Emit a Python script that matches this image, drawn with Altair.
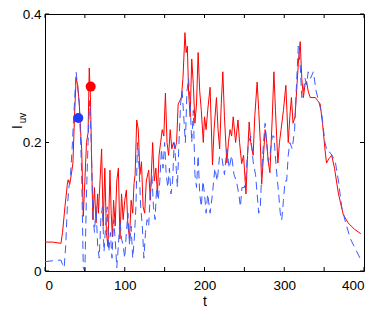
import altair as alt
import pandas as pd

# red solid series
red_t = [0, 10, 20, 22, 25, 28, 29, 31, 33, 35, 37, 39, 41, 43, 45, 46, 48, 50, 52, 54, 55.5, 57, 58.5,
         60, 62, 64, 66, 67, 69, 71, 73, 75, 77, 79, 81.5, 83, 84.5, 86, 88, 90, 92, 94, 96, 98, 100,
         102, 104, 106, 108, 110, 111.6, 113, 115, 117, 119, 121, 123, 125, 127, 130, 132, 135, 137,
         139, 141, 143, 145, 147, 149, 151, 153, 155, 157, 159, 161, 163, 165, 167, 169, 171, 173,
         175.5, 177, 178.5, 180, 182, 184, 186, 188, 190, 192, 194, 196, 198.5, 200, 202, 204, 207,
         210, 212, 215, 217, 219, 221, 223, 225, 228, 230, 232, 234, 236, 239, 242, 244, 246.6, 249,
         252, 254, 256, 258, 261, 263, 266, 268, 270, 271.7, 274, 276, 278, 280, 282, 285, 287, 289,
         292, 294, 296, 299, 302, 305, 307, 309, 311, 313.5, 316, 318, 320, 322, 324, 326, 328, 330,
         332.6, 336, 339, 342, 345, 348, 351, 353, 356, 359.5, 363, 368, 374, 380, 388, 396]
red_v = [0.045, 0.045, 0.043, 0.06, 0.10, 0.135, 0.142, 0.135, 0.15, 0.168, 0.24, 0.30, 0.29, 0.26,
         0.21, 0.19, 0.085, 0.14, 0.20, 0.215, 0.316, 0.27, 0.17,
         0.08, 0.13, 0.075, 0.12, 0.09, 0.14, 0.19, 0.07, 0.16, 0.06, 0.038, 0.157, 0.09, 0.053,
         0.11, 0.07, 0.14, 0.16, 0.05, 0.12, 0.08, 0.11,
         0.126, 0.07, 0.05, 0.11, 0.09, 0.136, 0.15, 0.235, 0.22, 0.15, 0.17, 0.10, 0.09, 0.14,
         0.157, 0.11, 0.20, 0.14,
         0.16, 0.12, 0.18, 0.20, 0.22, 0.21, 0.277, 0.20, 0.18, 0.22, 0.19, 0.20, 0.19, 0.20,
         0.26, 0.265, 0.27, 0.30,
         0.371, 0.34, 0.35, 0.28, 0.24, 0.33, 0.29, 0.23, 0.26, 0.34, 0.28, 0.25, 0.20, 0.24,
         0.22, 0.25, 0.286,
         0.165, 0.22, 0.27, 0.22, 0.19, 0.26, 0.31, 0.24, 0.168, 0.20, 0.22, 0.21, 0.24, 0.20,
         0.235, 0.20, 0.167, 0.18,
         0.12, 0.18, 0.232, 0.20, 0.18, 0.24, 0.294, 0.25, 0.20, 0.135, 0.18, 0.22, 0.20, 0.17,
         0.153, 0.24, 0.31, 0.25,
         0.168, 0.20, 0.22, 0.25, 0.289, 0.20, 0.24, 0.27, 0.23, 0.24, 0.29, 0.33, 0.357, 0.30,
         0.27, 0.29, 0.295, 0.28,
         0.27, 0.27, 0.27, 0.265, 0.26, 0.23, 0.19, 0.168, 0.175, 0.18, 0.16, 0.12, 0.088, 0.075,
         0.065, 0.058]

# blue dashed series
blue_t = [0, 10, 20, 22, 24, 26, 28, 30, 32, 34, 36, 39, 41, 43, 45, 46, 48, 50, 52, 54, 56, 58,
          60, 62, 64, 66, 68, 70, 72, 74, 76, 78, 80, 82, 84, 86, 88, 90, 92, 94, 96, 98, 100,
          102, 104, 106, 108, 110, 112, 114, 116, 118, 120, 122, 124, 126, 128, 130, 132, 134, 136,
          138, 140, 142, 144, 146, 148, 150, 152, 154, 156, 158, 160, 162, 164, 166, 168, 170, 172,
          174, 176, 178, 180, 182, 184, 186, 188, 190, 192, 194, 196, 198, 200, 202, 204, 207, 210,
          213, 216, 219, 222, 225, 228, 231, 234, 237, 240, 243, 245, 247, 250, 252, 255, 258, 261,
          264, 266, 268, 270, 272, 274, 276, 278, 280, 282, 285, 287, 290, 293, 295, 296.8, 299, 301,
          303, 305, 307, 310, 313, 315, 317.6, 320, 322, 324, 326, 328, 330, 333, 336.5, 340, 344,
          347, 351, 354, 357, 360, 364, 368, 372, 377, 383, 389, 395]
blue_v = [0.0145, 0.016, 0.017, 0.01, 0.005, 0.04, 0.10, 0.13, 0.15, 0.19, 0.24, 0.31, 0.285, 0.26,
          0.19, 0.15, 0.005, 0.0, 0.12, 0.20, 0.265, 0.20,
          0.09, 0.06, 0.10, 0.04, 0.02, 0.08, 0.10, 0.03, 0.07, 0.10, 0.03, 0.06, 0.02, 0.08, 0.05,
          0.005, 0.04, 0.08, 0.05, 0.04, 0.02,
          0.06, 0.09, 0.04, 0.07, 0.02, 0.05, 0.10, 0.20, 0.16, 0.10, 0.07, 0.02, 0.06, 0.08, 0.07,
          0.12, 0.15, 0.10,
          0.08, 0.13, 0.11, 0.14, 0.19, 0.16, 0.20, 0.15, 0.13, 0.16, 0.12, 0.14, 0.20, 0.17, 0.13,
          0.20, 0.26, 0.28,
          0.24, 0.20, 0.28, 0.30, 0.26, 0.20, 0.25, 0.15, 0.13, 0.18, 0.12, 0.10, 0.14, 0.12, 0.09,
          0.12, 0.09, 0.12,
          0.16, 0.14, 0.18, 0.175, 0.15, 0.19, 0.16, 0.18, 0.15, 0.14, 0.12, 0.10, 0.13, 0.13, 0.15,
          0.20, 0.21, 0.17,
          0.15, 0.12, 0.09, 0.10, 0.16, 0.20, 0.23, 0.20, 0.17, 0.18, 0.21, 0.21, 0.16, 0.12, 0.09,
          0.079, 0.11, 0.14,
          0.14, 0.18, 0.20, 0.19, 0.22, 0.28, 0.35, 0.32, 0.27, 0.28, 0.30, 0.29, 0.31, 0.30, 0.31,
          0.28, 0.26,
          0.245, 0.20, 0.185, 0.185, 0.18, 0.17, 0.14, 0.10, 0.075, 0.05, 0.035, 0.02]

# marker points
dot_t = [41.8, 57.3]
dot_v = [0.238, 0.287]
dot_name = ["blue", "red"]

x_ticks = [0, 50, 100, 150, 200, 250, 300, 350, 400]
y_ticks = [0, 0.2, 0.4]

W, H = 319, 257
TICK = 4

red_df = pd.DataFrame({"t": red_t, "v": red_v})
blue_df = pd.DataFrame({"t": blue_t, "v": blue_v})
dot_df = pd.DataFrame({"t": dot_t, "v": dot_v, "name": dot_name})
xt_df = pd.DataFrame({"t": x_ticks})
yt_df = pd.DataFrame({"v": y_ticks})

FONT = "Liberation Sans"
xs = alt.Scale(domain=[0, 400], nice=False, zero=False)
ys = alt.Scale(domain=[0, 0.4], nice=False, zero=False)

x_main = alt.Axis(values=x_ticks, orient="bottom", tickSize=0, domain=False, grid=False,
                  labelFont=FONT, labelFontSize=13.5, labelColor="black", labelPadding=7,
                  title="t", titleFont=FONT, titleFontSize=14, titleFontWeight="normal",
                  titleColor="black", titlePadding=3)
y_main = alt.Axis(values=y_ticks, orient="left", tickSize=0, domain=False, grid=False,
                  labelFont=FONT, labelFontSize=13.5, labelColor="black", labelPadding=4,
                  labelExpr="datum.value == 0 ? '0' : format(datum.value, '.1f')",
                  title="")

red = alt.Chart(red_df).mark_line(color="#ff0000", strokeWidth=1).encode(
    x=alt.X("t:Q", scale=xs, axis=x_main),
    y=alt.Y("v:Q", scale=ys, axis=y_main),
)

blue = alt.Chart(blue_df).mark_line(color="#3a5bff", strokeWidth=1, strokeDash=[8, 5]).encode(
    x=alt.X("t:Q", scale=xs),
    y=alt.Y("v:Q", scale=ys),
)

dots = alt.Chart(dot_df).mark_circle(size=100, opacity=1).encode(
    x=alt.X("t:Q", scale=xs),
    y=alt.Y("v:Q", scale=ys),
    color=alt.Color("name:N", scale=alt.Scale(domain=["blue", "red"], range=["#1e3cff", "#ff0000"]),
                    legend=None),
)

# inward tick marks on all four sides of the box
tick_bottom = alt.Chart(xt_df).mark_rule(color="black", strokeWidth=1).encode(
    x=alt.X("t:Q", scale=xs), y=alt.value(H - TICK), y2=alt.value(H))
tick_top = alt.Chart(xt_df).mark_rule(color="black", strokeWidth=1).encode(
    x=alt.X("t:Q", scale=xs), y=alt.value(0), y2=alt.value(TICK))
tick_left = alt.Chart(yt_df).mark_rule(color="black", strokeWidth=1).encode(
    y=alt.Y("v:Q", scale=ys), x=alt.value(0), x2=alt.value(TICK))
tick_right = alt.Chart(yt_df).mark_rule(color="black", strokeWidth=1).encode(
    y=alt.Y("v:Q", scale=ys), x=alt.value(W - TICK), x2=alt.value(W))

# y-axis title I with subscript uv (rotated)
title_I = alt.Chart(pd.DataFrame({"s": ["I"]})).mark_text(
    angle=270, font=FONT, fontSize=14, align="center", baseline="alphabetic", color="black"
).encode(x=alt.value(-23), y=alt.value(113), text="s:N")
title_uv = alt.Chart(pd.DataFrame({"s": ["uv"]})).mark_text(
    angle=270, font=FONT, fontSize=10, align="center", baseline="alphabetic", color="black"
).encode(x=alt.value(-19), y=alt.value(104), text="s:N")

chart = alt.layer(red, blue, dots, tick_bottom, tick_top, tick_left, tick_right,
                  title_I, title_uv).properties(
    width=W,
    height=H,
    autosize=alt.AutoSizeParams(type="none"),
    padding={"left": 37, "top": 6, "right": 10, "bottom": 42},
    background="white",
).configure_view(stroke="black", strokeWidth=1)

chart.save("out.html", embed_options={"renderer": "svg", "actions": False})
